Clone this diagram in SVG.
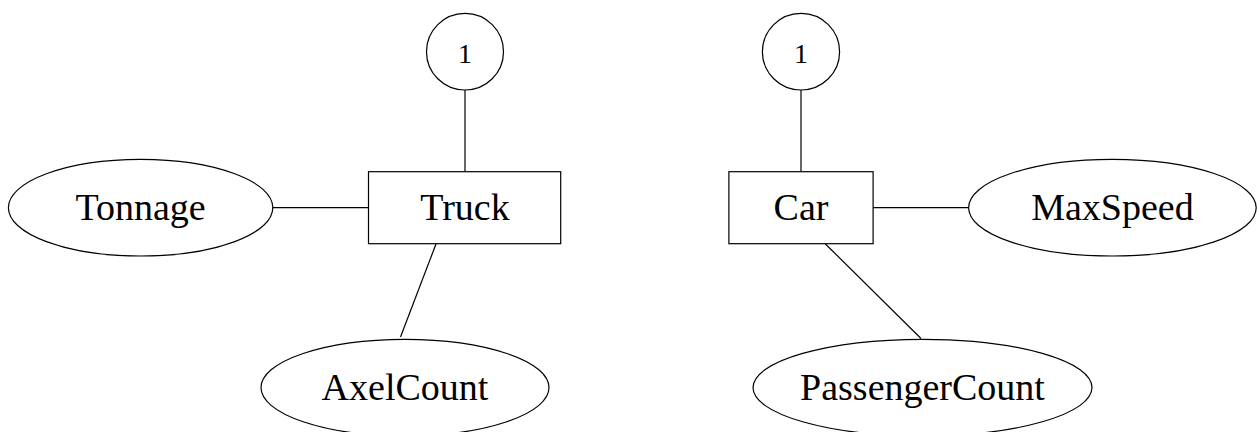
<svg xmlns="http://www.w3.org/2000/svg" width="1257" height="432" viewBox="0 0 1257 432">
<style>
.shape{fill:#fff;stroke:#000;stroke-width:1.2}
.edge{stroke:#000;stroke-width:1.2;fill:none}
.lbl{font-family:"Liberation Serif","Times New Roman",serif;font-size:38px;text-anchor:middle;fill:#000}
.num{font-family:"Liberation Serif","Times New Roman",serif;font-size:28px;text-anchor:middle;fill:#000}
</style>
<rect width="1257" height="432" fill="#fff"/>
<g id="connectors">
<line class="edge" x1="465" y1="90" x2="465" y2="171.7"/>
<line class="edge" x1="272.8" y1="207.7" x2="368.5" y2="207.7"/>
<line class="edge" x1="436.1" y1="243.7" x2="400.5" y2="337"/>
<line class="edge" x1="801" y1="90" x2="801" y2="171.7"/>
<line class="edge" x1="873.1" y1="207.7" x2="968.6" y2="207.7"/>
<line class="edge" x1="825.2" y1="243.7" x2="921" y2="338.5"/>
</g>
<g id="truck-card">
<ellipse class="shape" cx="465" cy="51.7" rx="38.5" ry="38.3"/>
<text class="num" x="465" y="63">1</text>
</g>
<g id="truck">
<rect class="shape" x="368.5" y="171.7" width="192.2" height="72"/>
<text class="lbl" x="465" y="220">Truck</text>
</g>
<g id="tonnage">
<ellipse class="shape" cx="140.6" cy="207.7" rx="132.2" ry="48.3"/>
<text class="lbl" x="140.6" y="220">Tonnage</text>
</g>
<g id="axelcount">
<ellipse class="shape" cx="405" cy="387.6" rx="144" ry="48.3"/>
<text class="lbl" x="405" y="400">AxelCount</text>
</g>
<g id="car-card">
<ellipse class="shape" cx="801" cy="51.7" rx="38.6" ry="38.3"/>
<text class="num" x="801" y="63">1</text>
</g>
<g id="car">
<rect class="shape" x="728.9" y="171.7" width="144.2" height="72"/>
<text class="lbl" x="801" y="220">Car</text>
</g>
<g id="maxspeed">
<ellipse class="shape" cx="1112.4" cy="207.7" rx="143.8" ry="48.3"/>
<text class="lbl" x="1112.4" y="220">MaxSpeed</text>
</g>
<g id="passengercount">
<ellipse class="shape" cx="922.5" cy="387.6" rx="169.5" ry="48.3"/>
<text class="lbl" x="922.5" y="400">PassengerCount</text>
</g>
</svg>
